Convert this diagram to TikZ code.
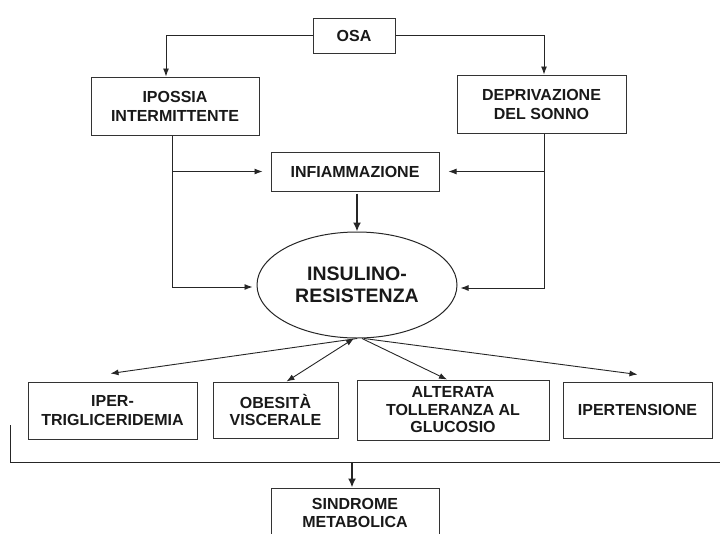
\documentclass[tikz,border=0pt]{standalone}
\usepackage{fontspec}
\setmainfont{Liberation Sans}
\usetikzlibrary{arrows.meta,shapes.geometric}
\tikzstyle{every node}=[font=\bfseries\fontsize{16}{19}\selectfont,align=center,text=black!90,inner sep=0pt]
\tikzstyle{box}=[draw=black!80,line width=1pt,rectangle]
\tikzstyle{link}=[draw=black!85,line width=0.9pt,-{Latex[length=8pt,width=6pt]}]
\tikzstyle{boldlink}=[link,line width=1.8pt,-{Latex[length=9pt,width=8pt]}]

\begin{document}
\begin{tikzpicture}[x=1pt,y=-1pt]
	\clip (0,0) rectangle (720,533);
	\node[box,minimum width=82pt,minimum height=35pt] (osa) at (354,35.5) {OSA};
	\node[box,minimum width=168pt,minimum height=58pt] (ipo) at (175,106) {IPOSSIA\\INTERMITTENTE};
	\node[box,minimum width=169pt,minimum height=58pt] (dep) at (541.5,104) {DEPRIVAZIONE\\DEL SONNO};
	\node[box,minimum width=168pt,minimum height=39pt] (inf) at (355,171.5) {INFIAMMAZIONE};
	\node[draw=black!85,line width=1pt,ellipse,minimum width=200pt,minimum height=106pt,
		font=\bfseries\fontsize{19.5}{22.5}\selectfont] (ins) at (357,285) {INSULINO-\\RESISTENZA};
	\node[box,minimum width=169pt,minimum height=57pt] (iper) at (112.5,410.5) {IPER-\\TRIGLICERIDEMIA};
	\node[box,minimum width=125pt,minimum height=56pt,font=\bfseries\fontsize{16}{17.5}\selectfont] (obe) at (275.5,410) {OBESIT\`A\\VISCERALE};
	\node[box,minimum width=192pt,minimum height=60pt,font=\bfseries\fontsize{16}{17.5}\selectfont] (alt) at (453,410) {ALTERATA\\TOLLERANZA AL\\GLUCOSIO};
	\node[box,minimum width=149pt,minimum height=56pt] (ipt) at (637.5,410) {IPERTENSIONE};
	\node[box,minimum width=168pt,minimum height=50pt,font=\bfseries\fontsize{16}{17.5}\selectfont] (sin) at (355,513) {SINDROME\\METABOLICA};
	\coordinate (brl) at (10,425);
	\coordinate (brr) at (720,462);

	\draw[link] (osa.west) -| ([xshift=-9pt]ipo.north);
	\draw[link] (osa.east) -| ([xshift=2.5pt]dep.north);
	\draw[link,shorten >=8pt] ([xshift=-3pt]ipo.south) |- (inf.west);
	\draw[link,shorten >=4pt] ([xshift=-3pt]ipo.south) |- ([yshift=-2pt]ins.west);
	\draw[link,shorten >=9pt] ([xshift=2.5pt]dep.south) |- (inf.east);
	\draw[link,shorten >=3pt] ([xshift=2.5pt]dep.south) |- ([yshift=-3pt]ins.east);
	\draw[boldlink,shorten <=2pt] (ins.north |- inf.south) -- (ins.north);
	\draw[link] (ins.south) -- ([xshift=-2pt,yshift=8pt]iper.north);
	\draw[link,{Latex[length=8pt,width=6pt]}-{Latex[length=8pt,width=6pt]}] ([xshift=-3pt]ins.south) -- ([xshift=11pt]obe.north);
	\draw[link] ([xshift=5pt]ins.south) -- ([xshift=-6pt]alt.north);
	\draw[link] ([xshift=7pt]ins.south) -- ([yshift=7pt]ipt.north);
	\draw[draw=black!85,line width=0.9pt] (brl) |- (brr);
	\draw[boldlink] ([xshift=-3pt]sin.north |- brr) -- ([xshift=-3pt]sin.north);
\end{tikzpicture}
\end{document}
